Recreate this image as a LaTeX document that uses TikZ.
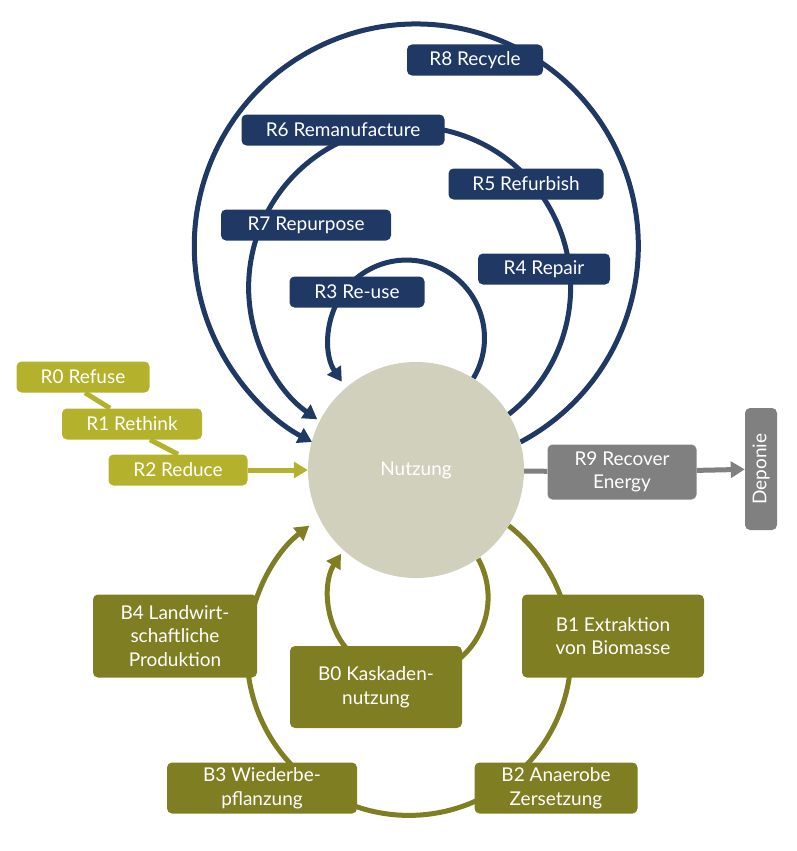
\documentclass[tikz,border=0pt]{standalone}
\usepackage{fontspec}
\setmainfont{Lato}
\usetikzlibrary{arrows.meta,backgrounds}
\definecolor{rblue}{RGB}{31,56,100}
\definecolor{ryellow}{RGB}{180,178,45}
\definecolor{bolive}{RGB}{128,126,34}
\definecolor{rgrey}{RGB}{128,128,128}
\definecolor{usefill}{RGB}{208,208,189}
\tikzstyle{box} = [rounded corners=5pt, text=white, minimum height=31pt, inner sep=0pt, align=center, font={\fontsize{19}{23.5}\selectfont}]
\tikzstyle{rbox} = [box, fill=rblue]
\tikzstyle{ybox} = [box, fill=ryellow]
\tikzstyle{bbox} = [box, fill=bolive]
\tikzstyle{gbox} = [box, fill=rgrey]
\tikzstyle{link} = [line width=5pt]
\tikzstyle{ring} = [link, -{Triangle[width=16pt,length=14pt]}]

\begin{document}
\begin{tikzpicture}[x=1pt,y=1pt]
        \useasboundingbox (0,0) rectangle (796,-851);
        \node[circle, fill=usefill, minimum size=216pt, inner sep=0pt, text=white, font={\fontsize{19}{23}\selectfont}](nutzung) at (416,-470){Nutzung};
        \node[rbox, minimum width=136pt](r8) at (475,-60){R8 Recycle};
        \node[rbox, minimum width=203pt](r6) at (343,-130){R6 Remanufacture};
        \node[rbox, minimum width=155pt](r5) at (526,-184){R5 Refurbish};
        \node[rbox, minimum width=170pt](r7) at (306,-225){R7 Repurpose};
        \node[rbox, minimum width=132pt](r4) at (544,-269){R4 Repair};
        \node[rbox, minimum width=135pt](r3) at (357,-292){R3 Re-use};
        \node[ybox, minimum width=133pt](r0) at (83,-377){R0 Refuse};
        \node[ybox, minimum width=140pt](r1) at (132,-424){R1 Rethink};
        \node[ybox, minimum width=139pt](r2) at (178,-470){R2 Reduce};
        \node[gbox, minimum width=149pt, minimum height=55pt](r9) at (622,-472){R9 Recover\\Energy};
        \node[gbox, minimum width=122pt, minimum height=32pt, rotate=90](dep) at (761,-469){Deponie};
        \node[bbox, minimum width=164pt, minimum height=83pt](b4) at (175,-636){B4 Landwirt-\\schaftliche\\Produktion};
        \node[bbox, minimum width=172pt, minimum height=82pt](b0) at (376,-687){B0 Kaskaden-\\nutzung};
        \node[bbox, minimum width=182pt, minimum height=83pt](b1) at (613,-636){B1 Extraktion\\von Biomasse};
        \node[bbox, minimum width=190pt, minimum height=51pt](b3) at (262,-788){B3 Wiederbe-\\pflanzung};
        \node[bbox, minimum width=163pt, minimum height=51pt](b2) at (556,-788){B2 Anaerobe\\Zersetzung};
        \begin{scope}[on background layer]
        \draw[ring, rblue](nutzung.15) arc[start angle=-62, end angle=242, radius=222];
        \draw[ring, rblue](nutzung.31) arc[start angle=-52, end angle=235, radius=161];
        \draw[ring, rblue](nutzung.58) arc[start angle=-31, end angle=214, radius=78];
        \draw[ring, bolive](nutzung.-31) arc[start angle=52, end angle=-232, radius=162];
        \draw[ring, bolive](nutzung.-55) arc[start angle=29, end angle=-213, radius=80];
        \draw[link, ryellow]([xshift=2pt]r0.south)--([xshift=-22pt]r1.north);
        \draw[link, ryellow]([xshift=18pt]r1.south)--(r2.north);
        \end{scope}
        \draw[ring, ryellow](r2)--(nutzung);
        \draw[link, rgrey](nutzung)--(r9);
        \draw[ring, rgrey](r9)--(dep);
      \end{tikzpicture}
\end{document}
